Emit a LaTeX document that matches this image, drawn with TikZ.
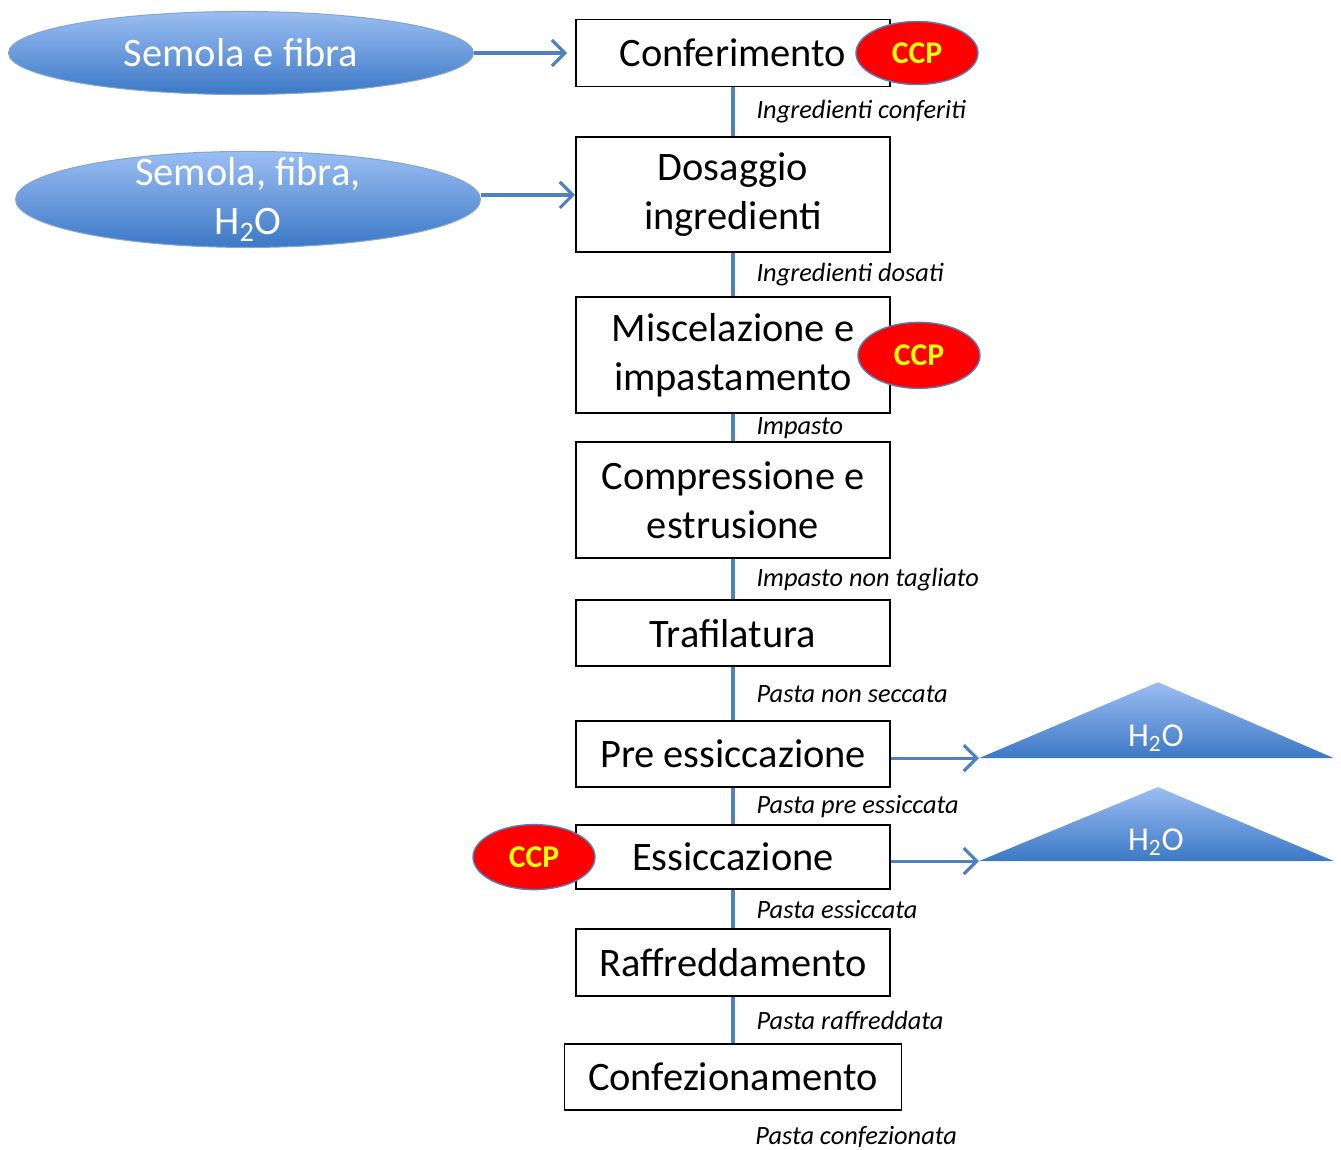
\documentclass[tikz,border=0pt]{standalone}
\usepackage{fontspec}
\setmainfont{Carlito}
\usetikzlibrary{arrows.meta,positioning,shapes.geometric,calc}
\definecolor{flowblue}{RGB}{79,129,189}
\definecolor{lightfill}{RGB}{155,190,242}
\definecolor{darkfill}{RGB}{60,120,198}
\definecolor{ccpred}{RGB}{255,0,0}
\definecolor{ccpyellow}{RGB}{255,255,0}

\begin{document}
\begin{tikzpicture}[
    box/.style={draw=black,line width=1.1pt,fill=white,align=center,
      minimum width=6.28cm,minimum height=1.34cm,
      font=\fontsize{23}{28}\selectfont},
    inp/.style={ellipse,draw=flowblue!70,line width=0.6pt,
      top color=lightfill,bottom color=darkfill,text=white,align=center,
      minimum width=9.3cm,minimum height=1.66cm,
      font=\fontsize{23}{28}\selectfont},
    ccp/.style={ellipse,draw=flowblue,line width=0.8pt,fill=ccpred,
      text=ccpyellow,minimum width=2.44cm,minimum height=1.26cm,
      font=\fontsize{18}{20}\selectfont\bfseries},
    lnk/.style={draw=flowblue,line width=1.8pt},
    arr/.style={draw=flowblue,line width=1.8pt,
      -{Straight Barb[length=0.26cm,width=0.52cm]}},
    lbl/.style={anchor=west,inner sep=0pt,xshift=0.44cm,
      font=\fontsize{15}{17}\selectfont\itshape},
    wat/.style={text=white,font=\fontsize{19}{22}\selectfont}
  ]
  \useasboundingbox (0,0) rectangle (26.82,-22.98);

  \node[box] (conf) at (14.66,-1.06) {Conferimento};
  \node[box,below=0.98cm of conf,minimum height=2.3cm] (dos) {Dosaggio\\ingredienti};
  \node[box,below=0.86cm of dos,minimum height=2.32cm] (misc) {Miscelazione e\\impastamento};
  \node[box,below=0.54cm of misc,minimum height=2.32cm] (compr) {Compressione e\\estrusione};
  \node[box,below=0.8cm of compr,minimum height=1.32cm] (traf) {Trafilatura};
  \node[box,below=1.06cm of traf,minimum height=1.32cm] (pre) {Pre essiccazione};
  \node[box,below=0.72cm of pre,minimum height=1.28cm] (ess) {Essiccazione};
  \node[box,below=0.76cm of ess,minimum height=1.34cm] (raff) {Raffreddamento};
  \node[box,below=0.92cm of raff,minimum width=6.74cm,minimum height=1.32cm] (confez) {Confezionamento};

  \draw[lnk] (conf) -- node[lbl] {Ingredienti conferiti} (dos);
  \draw[lnk] (dos) -- node[lbl] {Ingredienti dosati} (misc);
  \draw[lnk] (misc) -- node[lbl] {Impasto} (compr);
  \draw[lnk] (compr) -- node[lbl] {Impasto non tagliato} (traf);
  \draw[lnk] (traf) -- node[lbl] {Pasta non seccata} (pre);
  \draw[lnk] (pre) -- node[lbl] {Pasta pre essiccata} (ess);
  \draw[lnk] (ess) -- node[lbl] {Pasta essiccata} (raff);
  \draw[lnk] (raff) -- node[lbl] {Pasta raffreddata} (confez);
  \node[lbl] (fine) at ([yshift=-0.52cm]confez.south) {Pasta confezionata};

  \node[inp,left=2.02cm of conf] (semf) {Semola e fibra};
  \node[inp,left=1.88cm of dos,yshift=-0.09cm,inner ysep=-0.16cm,minimum height=1.92cm] (semfh) {Semola, fibra,\\H\textsubscript{2}O};
  \draw[arr,shorten >=0.16cm] (semf) -- (conf);
  \draw[arr] (semfh.east |- dos.west) -- (dos.west);

  \node[ccp] (ccpa) at ([xshift=0.52cm]conf.east) {CCP};
  \node[ccp,minimum height=1.32cm] (ccpb) at ([xshift=0.56cm]misc.east) {CCP};
  \node[ccp,minimum height=1.3cm] (ccpc) at ([xshift=-0.82cm]ess.west) {CCP};

  \coordinate (wa) at ([shift={(1.76cm,-0.08cm)}]pre.east);
  \coordinate (wb) at ([shift={(1.76cm,-0.08cm)}]ess.east);
  \shade[top color=lightfill,bottom color=darkfill]
    (wa) -- ([xshift=7.1cm]wa) -- ([shift={(3.58cm,1.52cm)}]wa) -- cycle;
  \shade[top color=lightfill,bottom color=darkfill]
    (wb) -- ([xshift=7.1cm]wb) -- ([shift={(3.58cm,1.48cm)}]wb) -- cycle;
  \node[wat] (h2oa) at ([shift={(3.54cm,0.4cm)}]wa) {H\textsubscript{2}O};
  \node[wat] (h2ob) at ([shift={(3.54cm,0.38cm)}]wb) {H\textsubscript{2}O};
  \draw[arr] (pre.east |- wa) -- (wa);
  \draw[arr] (ess.east |- wb) -- (wb);
\end{tikzpicture}
\end{document}
